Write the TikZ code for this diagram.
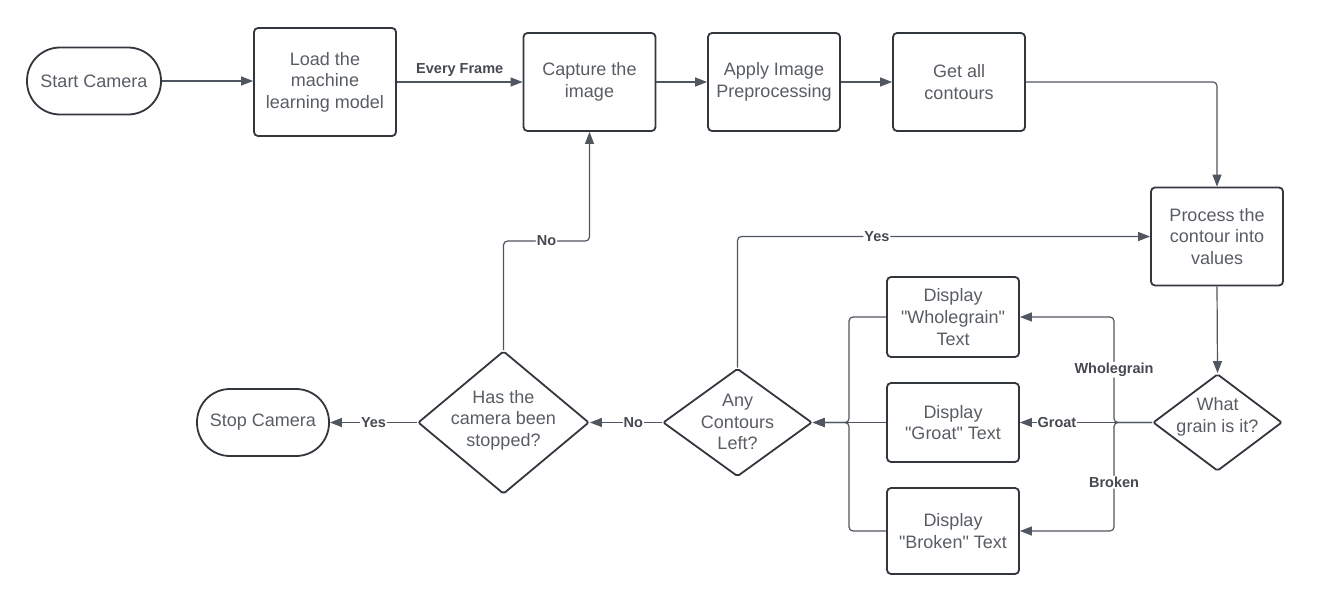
\documentclass[tikz,border=0pt]{standalone}
\usepackage{fontspec}
\setmainfont{Liberation Sans}[Ligatures=TeXOff]
\usetikzlibrary{shapes.geometric,arrows.meta,calc}
\definecolor{txt}{RGB}{88,93,100}
\definecolor{lbl}{RGB}{70,74,80}
\definecolor{bord}{RGB}{50,55,62}
\definecolor{conn}{RGB}{80,86,95}
\tikzset{
  box/.style={draw=bord, line width=1.8pt, rounded corners=4pt, text=txt,
    font=\fontsize{18}{21.6}\selectfont, align=center, inner sep=0pt},
  stdbox/.style={box, minimum width=132pt, minimum height=98pt},
  term/.style={box, rounded corners=33pt, minimum width=134pt, minimum height=67pt},
  dec/.style={draw=bord, line width=1.8pt, diamond, inner sep=0pt, rounded corners=2pt},
  dectext/.style={text=txt, font=\fontsize{18}{21.6}\selectfont, align=center, inner sep=0pt},
  arr/.style={draw=conn, line width=1.2pt, -{Triangle[length=12pt,width=9pt]}},
  lab/.style={text=lbl, font=\bfseries\fontsize{14.5}{16}\selectfont, fill=white, inner sep=1pt}
}
\begin{document}
\begin{tikzpicture}[x=1pt,y=-1pt]
\useasboundingbox (0,0) rectangle (1319,605);

% top row
\node[term] (start) at (94,81) {Start Camera};
\node[box, minimum width=142pt, minimum height=108pt] (load) at (325,82) {Load the\\machine\\learning model};
\node[stdbox] (capture) at (589.5,82) {Capture the\\image};
\node[stdbox] (apply) at (774,82) {Apply Image\\Preprocessing};
\node[stdbox] (get) at (959,82) {Get all\\contours};

% right column
\node[stdbox] (process) at (1217,236.5) {Process the\\contour into\\values};
\node[dec, minimum width=129pt, minimum height=97pt] (what) at (1217.5,422.5) {};
\node[dectext] (whatT) at (1217.5,417) {What\\grain is it?};

% display boxes
\node[box, minimum width=132pt, minimum height=80pt] (whole) at (953,317) {Display\\"Wholegrain"\\Text};
\node[box, minimum width=132pt, minimum height=79pt] (groat) at (953,422.5) {Display\\"Groat" Text};
\node[box, minimum width=132pt, minimum height=86pt] (broken) at (953,531) {Display\\"Broken" Text};

% decisions bottom
\node[dec, minimum width=149pt, minimum height=108pt] (any) at (737.5,422.5) {};
\node[dectext] (anyT) at (737.5,422) {Any\\Contours\\Left?};
\node[dec, minimum width=171pt, minimum height=143pt] (has) at (503.5,422.5) {};
\node[dectext] (hasT) at (503.5,420) {Has the\\camera been\\stopped?};
\node[term, minimum width=132pt] (stop) at (263,422.5) {Stop Camera};

\coordinate (wsplit) at (1114,422.5);
\coordinate (mrg) at (849,422.5);
\coordinate (nobend) at (589.5,241);

% connectors
\draw[arr] (start.east) -- (start.east -| load.west);
\draw[arr] (load.east |- capture.west) -- node[lab, fill=none, above=4pt] (lEvery) {Every Frame} (capture.west);
\draw[arr] (capture.east) -- (apply.west);
\draw[arr] (apply.east) -- (get.west);
\draw[arr, rounded corners=4pt] (get.east) -| (process.north);
\draw[arr] (process.south) -- (what.north);

\draw[arr] (what.west) -- node[lab, pos=0.72] (lGroat) {Groat} (groat.east);
\draw[arr, rounded corners=4pt] (what.west) -- (wsplit) |- node[lab, pos=0.25] (lWhole) {Wholegrain} (whole.east);
\draw[arr, rounded corners=4pt] (what.west) -- (wsplit) |- node[lab, pos=0.275] (lBroken) {Broken} (broken.east);

\draw[arr, rounded corners=4pt] (whole.west) -| (mrg) -- (any.east);
\draw[arr] (groat.west) -- (any.east);
\draw[arr, rounded corners=4pt] (broken.west) -| (mrg) -- (any.east);

\draw[arr, rounded corners=4pt] (any.north) |- node[lab, pos=0.669] (lYes1) {Yes} (process.west);
\draw[arr] (any.west) -- node[lab, pos=0.4] (lNo1) {No} (has.east);
\draw[arr] (has.west) -- node[lab, pos=0.5] (lYes2) {Yes} (stop.east);
\draw[arr, rounded corners=4pt] (has.north) |- node[lab, pos=0.75] (lNo2) {No} (nobend) -- (capture.south);
\end{tikzpicture}
\end{document}
